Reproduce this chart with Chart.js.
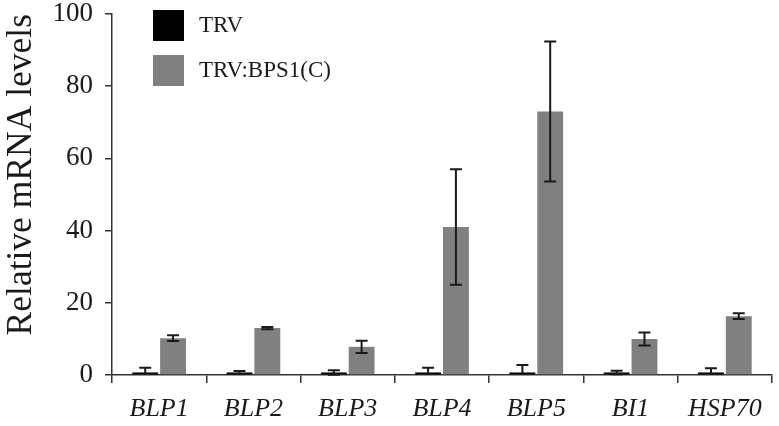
<!DOCTYPE html>
<html>
<head>
<meta charset="utf-8">
<script src="https://cdn.jsdelivr.net/npm/chart.js@4"></script>
<style>
    html, body { margin: 0; padding: 0; background: #fff; }
    #wrap { width: 779px; height: 426px; }
</style>
</head>
<body>
<div id="wrap"><canvas id="mrnaChart"></canvas></div>
<script>
// du lieu doc tu hinh
const genes = ['BLP1', 'BLP2', 'BLP3', 'BLP4', 'BLP5', 'BI1', 'HSP70'];
const trvValues = [0.7, 0.7, 0.7, 0.7, 0.7, 0.7, 0.7];
const trvErrors = [1.3, 0.4, 0.6, 1.3, 2.1, 0.5, 1.2];
const bpsValues = [10.2, 13.0, 7.8, 41.0, 73.0, 10.0, 16.3];
const bpsErrors = [0.8, 0.3, 1.7, 16.0, 19.4, 1.8, 0.8];
const yTicks = [0, 20, 40, 60, 80, 100];

const serif = "'Liberation Serif', 'Times New Roman', serif";

// ve error bar theo scale cua chart
const errorBarPlugin = {
    id: 'errorBars',
    afterDatasetsDraw(chart) {
        const ctx = chart.ctx;
        const yScale = chart.scales.y;
        chart.data.datasets.forEach((ds, i) => {
            const meta = chart.getDatasetMeta(i);
            meta.data.forEach((bar, j) => {
                const v = ds.data[j];
                const e = ds.errors[j];
                const yTop = yScale.getPixelForValue(v + e);
                const yBot = yScale.getPixelForValue(Math.max(0, v - e));
                ctx.save();
                ctx.strokeStyle = '#1a1a1a';
                ctx.lineWidth = 2;
                ctx.beginPath();
                ctx.moveTo(bar.x, yTop);
                ctx.lineTo(bar.x, yBot);
                ctx.moveTo(bar.x - 6, yTop);
                ctx.lineTo(bar.x + 6, yTop);
                if (v - e > 0) {
                    ctx.moveTo(bar.x - 6, yBot);
                    ctx.lineTo(bar.x + 6, yBot);
                }
                ctx.stroke();
                ctx.restore();
            });
        });
    }
};

// chu thich nam trong vung bieu do
const insideLegend = {
    id: 'insideLegend',
    afterDraw(chart) {
        const ctx = chart.ctx;
        ctx.save();
        chart.data.datasets.forEach((ds, i) => {
            const top = 10 + i * 45;
            ctx.fillStyle = ds.backgroundColor;
            ctx.fillRect(153, top, 31, 31);
            ctx.fillStyle = '#1a1a1a';
            ctx.font = '23px ' + serif;
            ctx.textBaseline = 'middle';
            ctx.fillText(ds.label, 199, top + 16);
        });
        ctx.restore();
    }
};

const ctx = document.getElementById('mrnaChart').getContext('2d');
const mrnaChart = new Chart(ctx, {
    type: 'bar',
    data: {
        labels: genes,
        datasets: [{
            label: 'TRV',
            data: trvValues,
            errors: trvErrors,
            backgroundColor: '#000000',
            categoryPercentage: 0.59,
            barPercentage: 0.93
        }, {
            label: 'TRV:BPS1(C)',
            data: bpsValues,
            errors: bpsErrors,
            backgroundColor: '#808080',
            categoryPercentage: 0.59,
            barPercentage: 0.93
        }]
    },
    options: {
        responsive: true,
        maintainAspectRatio: false,
        animation: false,
        layout: {
            padding: { top: 14, right: 7, left: 0, bottom: 0 }
        },
        plugins: {
            legend: { display: false },
            tooltip: { enabled: false }
        },
        scales: {
            y: {
                min: 0,
                max: 100,
                afterBuildTicks: (scale) => {
                    scale.ticks = yTicks.map(v => ({ value: v }));
                },
                afterFit: (scale) => {
                    scale.width = 112;
                    scale.paddingTop = 0;
                    scale.paddingBottom = 0;
                },
                border: { display: true, color: '#333', width: 1.5 },
                grid: {
                    drawOnChartArea: false,
                    drawTicks: true,
                    tickLength: 7,
                    color: '#333',
                    lineWidth: 1.5
                },
                ticks: {
                    color: '#1a1a1a',
                    padding: 12,
                    font: { family: serif, size: 27 }
                },
                title: {
                    display: true,
                    text: 'Relative mRNA levels',
                    align: 'end',
                    color: '#1a1a1a',
                    padding: { top: 0, bottom: 0 },
                    font: { family: serif, size: 35.5 }
                }
            },
            x: {
                afterFit: (scale) => {
                    scale.height = 51;
                    scale.paddingLeft = 0;
                    scale.paddingRight = 0;
                },
                border: { display: true, color: '#333', width: 1.5 },
                grid: {
                    offset: true,
                    drawOnChartArea: false,
                    drawTicks: true,
                    tickLength: 8,
                    color: '#333',
                    lineWidth: 1.5
                },
                ticks: {
                    color: '#1a1a1a',
                    padding: 11,
                    font: { family: serif, size: 26, style: 'italic' }
                }
            }
        }
    },
    plugins: [errorBarPlugin, insideLegend]
});
</script>
</body>
</html>
